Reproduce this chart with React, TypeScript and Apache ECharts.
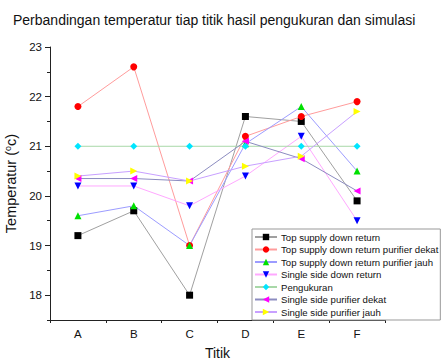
import React, { useEffect, useRef } from "react";
import * as echarts from "echarts";

const categories = ["A", "B", "C", "D", "E", "F"];
const topSupply = [19.2, 19.7, 18.0, 21.6, 21.5, 19.9];
const topSupplyDekat = [21.8, 22.6, 19.0, 21.2, 21.6, 21.9];
const topSupplyJauh = [19.6, 19.8, 19.0, 21.05, 21.8, 20.5];
const singleSideDown = [20.2, 20.2, 19.8, 20.4, 21.2, 19.5];
const pengukuran = [21.0, 21.0, 21.0, 21.0, 21.0, 21.0];
const singleSideDekat = [20.35, 20.35, 20.3, 21.1, 20.75, 20.1];
const singleSideJauh = [20.4, 20.5, 20.3, 20.6, 20.8, 21.7];
const yMajorTicks = [18, 19, 20, 21, 22, 23];
const yMinorTicks = [17.5, 18.5, 19.5, 20.5, 21.5, 22.5];

const FONT = "Liberation Sans, Arial, sans-serif";

export default function App() {
  const ref = useRef<HTMLDivElement>(null);
  useEffect(() => {
    const chart = echarts.init(ref.current!, null, { renderer: "svg" });
    const mk = (name: string, data: number[], lineColor: string, symColor: string, symbol: string, rot: number) => ({
      name,
      type: "line",
      data,
      symbol,
      symbolSize: 7,
      symbolRotate: rot,
      lineStyle: { color: lineColor, width: 1 },
      itemStyle: { color: symColor },
      emphasis: { disabled: true },
    });
    chart.setOption({
      animation: false,
      textStyle: { fontFamily: FONT },
      title: {
        text: "Perbandingan temperatur tiap titik hasil pengukuran dan simulasi",
        left: 8,
        top: 8,
        textStyle: { fontSize: 14, fontWeight: "normal", color: "#111", fontFamily: FONT },
      },
      grid: { left: 50, right: 59, top: 47, bottom: 40, outerBoundsMode: "none", containLabel: false },
      legend: {
        orient: "vertical",
        left: 252,
        top: 229,
        padding: [3, 2, 3, 2],
        itemWidth: 22,
        itemHeight: 8,
        itemGap: 2.5,
        borderColor: "#999",
        borderWidth: 1,
        backgroundColor: "#fff",
        textStyle: { fontSize: 9.6, color: "#111", fontFamily: FONT, padding: [0, 0, 0, -1] },
      },
      xAxis: [
        {
          type: "category",
          data: categories,
          boundaryGap: true,
          name: "Titik",
          nameLocation: "middle",
          nameGap: 26,
          nameTextStyle: { fontSize: 14, color: "#111" },
          axisLine: { lineStyle: { color: "#222", width: 1 } },
          axisTick: { alignWithLabel: true, length: 5, lineStyle: { color: "#222" } },
          axisLabel: { fontSize: 11.5, color: "#111", margin: 8 },
        },
        {
          type: "category",
          data: categories,
          boundaryGap: true,
          position: "bottom",
          axisLine: { show: false },
          axisTick: { show: true, length: 3, lineStyle: { color: "#222" } },
          axisLabel: { show: false },
        },
      ],
      yAxis: [
        {
          type: "value",
          min: 17.5,
          max: 23,
          name: "Temperatur ({sup|o}c)",
          nameLocation: "middle",
          nameGap: 22,
          nameTextStyle: {
            fontSize: 14.5,
            color: "#111",
            rich: { sup: { fontSize: 9, verticalAlign: "top", padding: [0, 0, 6, 0], color: "#111" } },
          },
          axisLine: { show: true, lineStyle: { color: "#222", width: 1 } },
          axisTick: { show: true, length: 5, customValues: yMajorTicks, lineStyle: { color: "#222" } },
          axisLabel: { fontSize: 11.5, color: "#111", margin: 8, customValues: yMajorTicks },
          splitLine: { show: false },
        },
        {
          type: "value",
          min: 17.5,
          max: 23,
          position: "left",
          axisLine: { show: false },
          axisTick: { show: true, length: 3, customValues: yMinorTicks, lineStyle: { color: "#222" } },
          axisLabel: { show: false },
          splitLine: { show: false },
        },
      ],
      series: [
        mk("Top supply down return", topSupply, "#a0a0a0", "#000000", "rect", 0),
        mk("Top supply down return purifier dekat", topSupplyDekat, "#ff9c9c", "#ff0000", "circle", 0),
        mk("Top supply down return purifier jauh", topSupplyJauh, "#9c9cff", "#00e000", "triangle", 0),
        mk("Single side down return", singleSideDown, "#ffa8ff", "#0000ff", "triangle", 180),
        mk("Pengukuran", pengukuran, "#a8d8a8", "#00e5ff", "diamond", 0),
        mk("Single side purifier dekat", singleSideDekat, "#8c8cc0", "#ff00ff", "triangle", 90),
        mk("Single side purifier jauh", singleSideJauh, "#c8a0ff", "#ffff00", "triangle", -90),
      ],
    });
    return () => chart.dispose();
  }, []);
  return <div ref={ref} style={{ width: 444, height: 360, position: "absolute", left: 0, top: 0 }} />;
}
